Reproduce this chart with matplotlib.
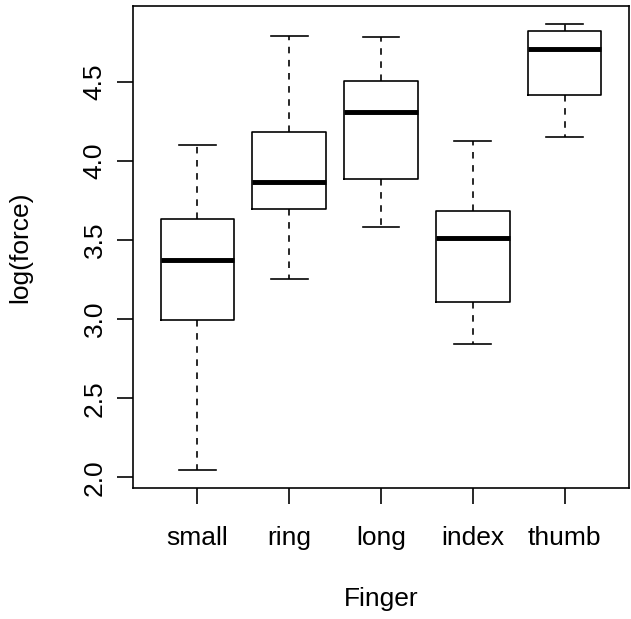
import matplotlib
matplotlib.use("Agg")
import matplotlib.pyplot as plt

plt.rcParams['font.family'] = ['Liberation Sans', 'DejaVu Sans']

# five-number summaries
fingers = ['small', 'ring', 'long', 'index', 'thumb']
whisk_lo = [2.046, 3.255, 3.580, 2.844, 4.150]
q1 = [2.996, 3.696, 3.888, 3.111, 4.420]
med = [3.375, 3.867, 4.312, 3.515, 4.710]
q3 = [3.635, 4.184, 4.504, 3.685, 4.820]
whisk_hi = [4.100, 4.793, 4.787, 4.127, 4.867]

stats = []
for i, name in enumerate(fingers):
    stats.append({'label': name, 'whislo': whisk_lo[i], 'q1': q1[i], 'med': med[i],
                  'q3': q3[i], 'whishi': whisk_hi[i], 'fliers': []})

fig = plt.figure(figsize=(6.31, 6.19), dpi=100)
ax = fig.add_axes([133 / 631, (619 - 488) / 619, (629 - 133) / 631, (488 - 6) / 619])

lw = 1.18
ax.bxp(stats, positions=range(1, 6), widths=0.8, showfliers=False,
       boxprops=dict(color='black', linewidth=lw),
       whiskerprops=dict(color='black', linewidth=lw, linestyle=(0, (4, 4))),
       capprops=dict(color='black', linewidth=lw),
       capwidths=0.4,
       medianprops=dict(color='black', linewidth=3.54, solid_capstyle='butt'))

ax.set_xlim(0.3, 5.7)
lo, hi = min(whisk_lo), max(whisk_hi)
ext = (hi - lo) * 0.04
ax.set_ylim(lo - ext, hi + ext)
ax.set_yticks([2.0, 2.5, 3.0, 3.5, 4.0, 4.5])
ax.set_yticklabels(['2.0', '2.5', '3.0', '3.5', '4.0', '4.5'], rotation=90, va='center')

for s in ax.spines.values():
    s.set_linewidth(lw)
ax.tick_params(axis='both', length=11.5, width=lw, labelsize=19, direction='out')
ax.tick_params(axis='x', pad=29.5)
ax.tick_params(axis='y', pad=7.5)
for t in ax.get_xticklabels():
    t.set_verticalalignment('baseline')

ax.set_xlabel('Finger', fontsize=19)
ax.xaxis.label.set_verticalalignment('baseline')
ax.xaxis.set_label_coords(0.5, -0.245)
ax.set_ylabel('log(force)', fontsize=19)
ax.yaxis.set_label_coords(-0.2036, 0.5)

fig.savefig('out.png', dpi=100)
